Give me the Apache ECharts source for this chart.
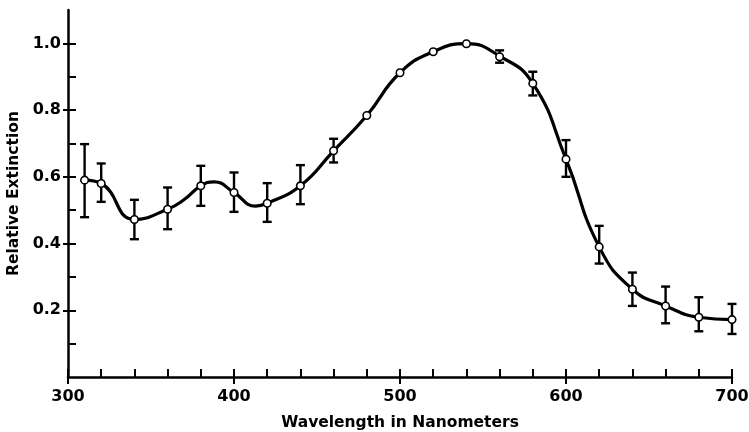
<!DOCTYPE html>
<html>
<head>
<meta charset="utf-8">
<script src="https://cdn.jsdelivr.net/npm/echarts@6/dist/echarts.min.js"></script>
<style>html,body{margin:0;padding:0;background:#fff}#c{width:749px;height:432px}</style>
</head>
<body>
<div id="c"></div>
<script>
// Measured points (wavelength nm, relative extinction) with error bounds
const wavelengths = [310,320,340,360,380,400,420,440,460,480,500,520,540,560,580,600,620,640,660,680,700];
const extinction  = [0.59,0.58,0.472,0.503,0.573,0.553,0.521,0.573,0.678,0.784,0.912,0.975,0.999,0.96,0.88,0.653,0.39,0.263,0.213,0.179,0.172];
const errLow      = [0.479,0.525,0.413,0.443,0.513,0.495,0.465,0.518,0.643,null,null,null,null,0.942,0.844,0.60,0.34,0.213,0.161,0.137,0.129];
const errHigh     = [0.698,0.64,0.531,0.568,0.633,0.613,0.581,0.635,0.714,null,null,null,null,0.979,0.915,0.71,0.453,0.313,0.271,0.239,0.219];
// Fitted smooth curve
const curveX = [310,320,340,360,370,380,388,400,413,420,440,460,480,500,520,540,560,580,600,620,640,660,680,700];
const curveY = [0.59,0.58,0.472,0.503,0.532,0.573,0.585,0.553,0.512,0.521,0.573,0.678,0.784,0.912,0.975,0.999,0.962,0.88,0.653,0.39,0.263,0.213,0.179,0.172];
const xLabels = [300,400,500,600,700];
const yLabels = [0.2,0.4,0.6,0.8,1.0];
const yTicks = [0.1,0.2,0.3,0.4,0.5,0.6,0.7,0.8,0.9,1.0];

const pts = wavelengths.map((w,i)=>[w, extinction[i]]);
const errs = wavelengths.map((w,i)=>[w, errLow[i], errHigh[i]]).filter(d=>d[1]!=null);
const curve = curveX.map((w,i)=>[w, curveY[i]]);

const font = '"DejaVu Sans", sans-serif';
const gridPos = {left:68,right:17,top:10,bottom:55,outerBoundsMode:'none',containLabel:false};
const chart = echarts.init(document.getElementById('c'));
chart.setOption({
  animation:false,
  backgroundColor:'#fff',
  grid:[Object.assign({},gridPos), Object.assign({},gridPos)],
  xAxis:[{
    type:'value',min:300,max:700,interval:20,
    axisLine:{lineStyle:{color:'#000',width:2.5}},
    axisTick:{inside:true,length:8,lineStyle:{color:'#000',width:2}},
    axisLabel:{customValues:xLabels,color:'#000',fontFamily:font,fontWeight:'bold',fontSize:16,margin:12},
    splitLine:{show:false},
    name:'Wavelength in Nanometers',nameLocation:'middle',nameGap:38,
    nameTextStyle:{color:'#000',fontFamily:font,fontWeight:'bold',fontSize:15.5}
  },{
    gridIndex:1,type:'value',min:300,max:700,interval:100,
    axisLine:{show:false},
    axisTick:{show:true,inside:false,length:7,lineStyle:{color:'#000',width:2}},
    axisLabel:{show:false},splitLine:{show:false}
  }],
  yAxis:[{
    type:'value',min:0,max:1.1,
    axisLine:{show:true,lineStyle:{color:'#000',width:2.5}},
    axisTick:{show:true,inside:true,length:8,customValues:yTicks,lineStyle:{color:'#000',width:2}},
    axisLabel:{customValues:yLabels,color:'#000',fontFamily:font,fontWeight:'bold',fontSize:16,margin:7,
      formatter:v=>v.toFixed(1)},
    splitLine:{show:false},
    name:'Relative Extinction',nameLocation:'middle',nameGap:40,
    nameTextStyle:{color:'#000',fontFamily:font,fontWeight:'bold',fontSize:15.5}
  },{
    gridIndex:1,type:'value',min:0,max:1.1,
    axisLine:{show:false},
    axisTick:{show:true,inside:false,length:5,customValues:yLabels,lineStyle:{color:'#000',width:2}},
    axisLabel:{show:false},splitLine:{show:false}
  }],
  series:[
    {type:'line',data:curve,smooth:0.5,symbol:'none',lineStyle:{color:'#000',width:3.2},z:2},
    {type:'custom',data:errs,z:3,
      renderItem:function(params,api){
        const x=api.value(0);
        const lo=api.coord([x,api.value(1)]);
        const hi=api.coord([x,api.value(2)]);
        const cw=4.5;
        const st={stroke:'#000',lineWidth:2.4};
        return {type:'group',children:[
          {type:'line',shape:{x1:lo[0],y1:lo[1],x2:hi[0],y2:hi[1]},style:st},
          {type:'line',shape:{x1:lo[0]-cw,y1:lo[1],x2:lo[0]+cw,y2:lo[1]},style:st},
          {type:'line',shape:{x1:hi[0]-cw,y1:hi[1],x2:hi[0]+cw,y2:hi[1]},style:st}
        ]};
      }},
    {type:'scatter',data:pts,symbol:'circle',symbolSize:7.5,z:5,
      itemStyle:{color:'#ffffff',opacity:1,borderColor:'#000',borderWidth:1.6},
      emphasis:{disabled:true}}
  ]
});
</script>
</body>
</html>
